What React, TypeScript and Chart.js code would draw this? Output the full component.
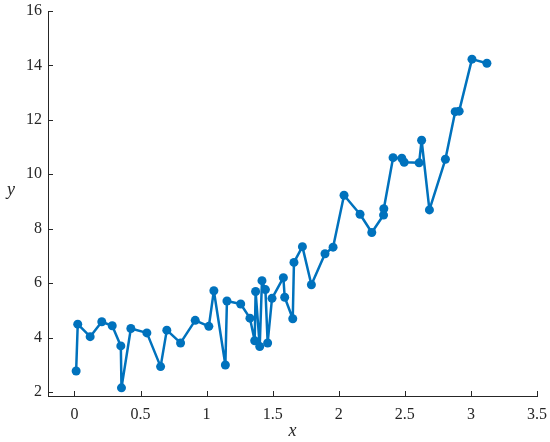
import React, { useEffect, useRef } from "react";
import { Chart, registerables } from "chart.js";

Chart.register(...registerables);

const xValues = [
  0.013, 0.025, 0.119, 0.207, 0.286, 0.351, 0.356, 0.427, 0.548, 0.652,
  0.699, 0.803, 0.914, 1.017, 1.055, 1.142, 1.154, 1.258, 1.328, 1.364,
  1.371, 1.402, 1.419, 1.445, 1.462, 1.495, 1.581, 1.591, 1.652, 1.661,
  1.725, 1.793, 1.896, 1.957, 2.04, 2.161, 2.25, 2.339, 2.341, 2.411,
  2.477, 2.495, 2.608, 2.627, 2.686, 2.807, 2.881, 2.911, 3.008, 3.121,
];
const yValues = [
  2.77, 4.49, 4.03, 4.58, 4.43, 3.69, 2.15, 4.33, 4.17, 2.93,
  4.27, 3.8, 4.63, 4.41, 5.72, 2.99, 5.34, 5.23, 4.71, 3.88,
  5.69, 3.67, 6.09, 5.76, 3.8, 5.44, 6.2, 5.48, 4.69, 6.76,
  7.34, 5.94, 7.08, 7.32, 9.23, 8.53, 7.86, 8.5, 8.73, 10.61,
  10.59, 10.44, 10.42, 11.25, 8.69, 10.55, 12.3, 12.32, 14.23, 14.08,
];
const xTicks = [0, 0.5, 1, 1.5, 2, 2.5, 3, 3.5];
const yTicks = [2, 4, 6, 8, 10, 12, 14, 16];
const xLabel = "x";
const yLabel = "y";

const AXIS = "#262626";
const FONT = "'Liberation Serif', 'DejaVu Serif', serif";

const innerTicks = {
  id: "innerTicks",
  afterDraw(chart: any) {
    const ctx = chart.ctx;
    const { left, bottom } = chart.chartArea;
    const xs = chart.scales.x;
    const ys = chart.scales.y;
    ctx.save();
    ctx.strokeStyle = AXIS;
    ctx.lineWidth = 1;
    ctx.beginPath();
    xTicks.forEach((v) => {
      const px = Math.round(xs.getPixelForValue(v)) + 0.5;
      ctx.moveTo(px, bottom);
      ctx.lineTo(px, bottom - 5);
    });
    yTicks.forEach((v) => {
      const py = Math.round(ys.getPixelForValue(v)) + 0.5;
      ctx.moveTo(left, py);
      ctx.lineTo(left + 5, py);
    });
    ctx.stroke();
    ctx.fillStyle = AXIS;
    ctx.font = `italic 18px ${FONT}`;
    ctx.textAlign = "center";
    ctx.textBaseline = "middle";
    ctx.fillText(yLabel, 11, 190);
    ctx.fillText(xLabel, (chart.chartArea.left + chart.chartArea.right) / 2, 431);
    ctx.restore();
  },
};

export default function App() {
  const ref = useRef<HTMLCanvasElement>(null);
  useEffect(() => {
    document.body.style.margin = "0";
    const chart = new Chart(ref.current!, {
      type: "line",
      data: {
        datasets: [
          {
            data: xValues.map((x, i) => ({ x, y: yValues[i] })),
            borderColor: "#0072BD",
            backgroundColor: "#0072BD",
            borderWidth: 2.5,
            borderJoinStyle: "round",
            borderCapStyle: "round",
            pointRadius: 4.5,
            pointBorderWidth: 0,
            pointHoverRadius: 4.5,
            tension: 0,
          },
        ],
      },
      options: {
        animation: false,
        responsive: false,
        layout: { padding: { top: 11, right: 13, left: 0, bottom: 0 } },
        plugins: { legend: { display: false }, tooltip: { enabled: false } },
        scales: {
          x: {
            type: "linear",
            min: -0.2,
            max: 3.5,
            grid: { display: false, drawTicks: false },
            border: { display: true, color: AXIS, width: 1 },
            afterBuildTicks: (s: any) => {
              s.ticks = xTicks.map((v) => ({ value: v }));
            },
            afterFit: (s: any) => {
              s.height = 46;
              s.paddingLeft = 0;
              s.paddingRight = 0;
            },
            ticks: {
              padding: 9,
              color: AXIS,
              font: { family: FONT, size: 16 },
              maxRotation: 0,
              callback: (v: any) => String(v),
            },
          },
          y: {
            type: "linear",
            min: 1.85,
            max: 16,
            grid: { display: false, drawTicks: false },
            border: { display: true, color: AXIS, width: 1 },
            afterBuildTicks: (s: any) => {
              s.ticks = yTicks.map((v) => ({ value: v }));
            },
            afterFit: (s: any) => {
              s.width = 48;
              s.paddingTop = 0;
              s.paddingBottom = 0;
            },
            ticks: {
              padding: 6,
              color: AXIS,
              font: { family: FONT, size: 16 },
              callback: (v: any) => String(v),
            },
          },
        },
      },
      plugins: [innerTicks],
    });
    return () => chart.destroy();
  }, []);
  return <canvas ref={ref} width={550} height={442} style={{ display: "block" }} />;
}
